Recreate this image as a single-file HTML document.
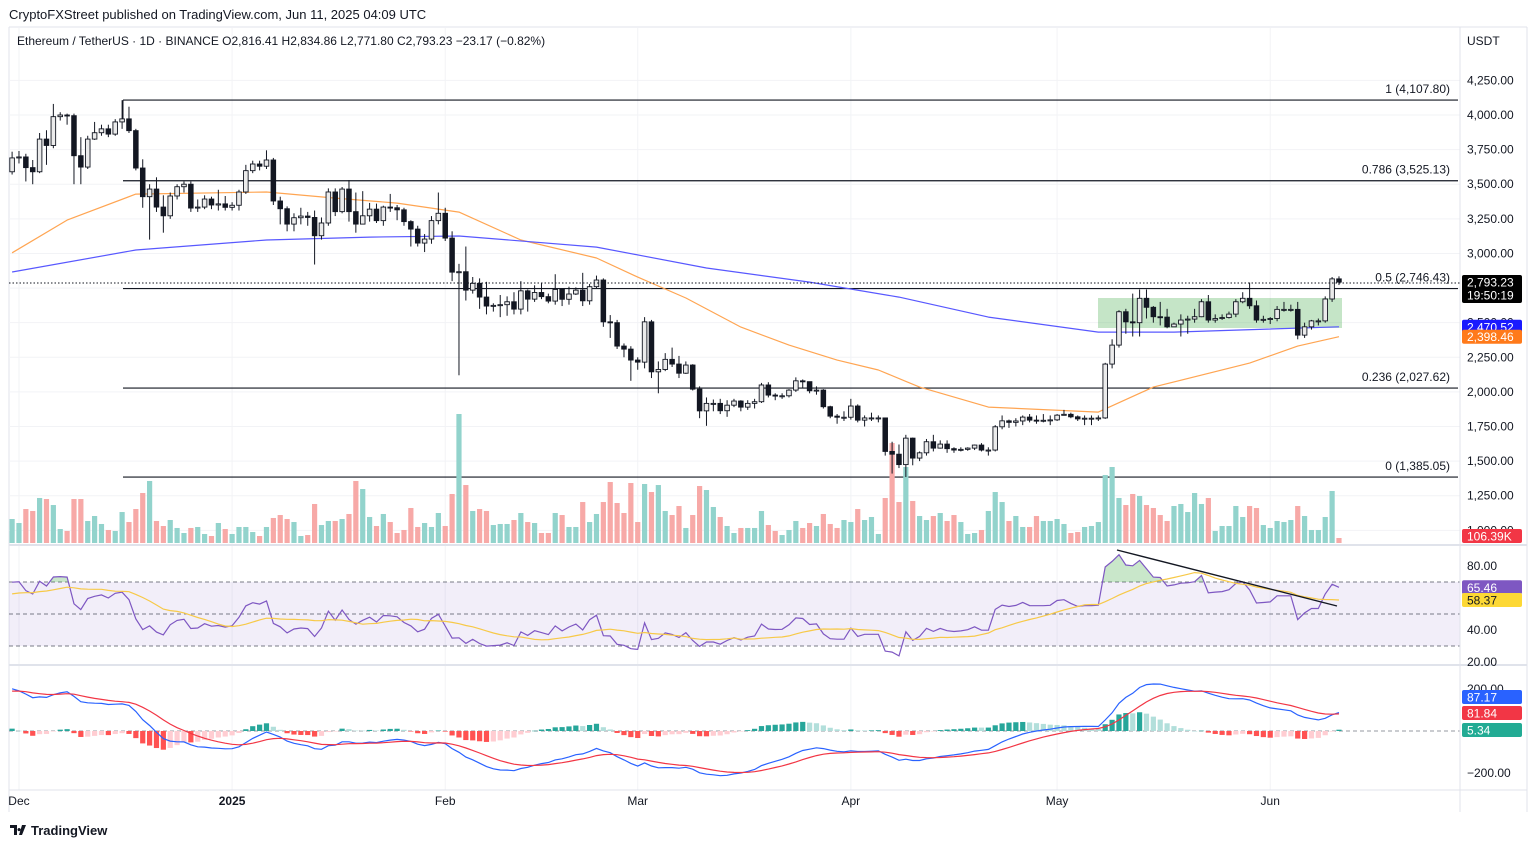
<!DOCTYPE html>
<html><head><meta charset="utf-8"><title>ETH/USDT 1D chart</title>
<style>
html,body{margin:0;padding:0;background:#fff;}
body{width:1536px;height:847px;overflow:hidden;position:relative;font-family:"Liberation Sans",Arial,sans-serif;color:#131722;}
svg text{font-family:"Liberation Sans",Arial,sans-serif;}
</style></head>
<body>
<svg id="chart" width="1536" height="847" viewBox="0 0 1536 847" xmlns="http://www.w3.org/2000/svg">
  <rect x="0" y="0" width="1536" height="847" fill="#ffffff"/>
  <text x="9" y="19" font-size="13" fill="#131722">CryptoFXStreet published on TradingView.com, Jun 11, 2025 04:09 UTC</text>
  <line x1="9" y1="27" x2="1527" y2="27" stroke="#e0e3eb"/>
  <line x1="9" y1="27" x2="9" y2="812" stroke="#e0e3eb"/>
  <line x1="1527" y1="27" x2="1527" y2="812" stroke="#e0e3eb"/>
  <g id="grid"></g>
  <g id="fib"></g>
  <rect x="1098" y="298" width="244" height="30" fill="#4caf50" fill-opacity="0.32"/>
  <g id="vol"></g>
  <g id="ma"></g>
  <g id="candles"></g>
  <line x1="9" y1="283" x2="1460" y2="283" stroke="#131722" stroke-dasharray="1.5,2"/>
  <g id="rsi"></g>
  <g id="macd"></g>
  <line x1="9" y1="545" x2="1527" y2="545" stroke="#e0e3eb" stroke-width="2"/>
  <line x1="9" y1="665" x2="1527" y2="665" stroke="#e0e3eb" stroke-width="2"/>
  <line x1="9" y1="790" x2="1527" y2="790" stroke="#e0e3eb"/>
  <line x1="1460" y1="27" x2="1460" y2="812" stroke="#e0e3eb"/>
  <g id="axis"></g>
  <text x="17" y="45" font-size="12" fill="#131722">Ethereum / TetherUS · 1D · BINANCE  O2,816.41  H2,834.86  L2,771.80  C2,793.23  −23.17 (−0.82%)</text>
  <text x="1467" y="45" font-size="12" fill="#131722">USDT</text>
  <g>
    <path d="M10 825 h7 v10 h-3 v-7 h-4z M19 828 a1.6 1.6 0 1 0 0.1 0z M22 825 h4 l-4 10 h-3z" fill="#131722"/>
    <text x="31" y="835" font-size="13" font-weight="bold" fill="#131722">TradingView</text>
  </g>
</svg>
<script>
// ---------- data ----------
const startDate = '2024-11-30';
const closes = [3690,3697,3620,3590,3826,3780,3988,4000,3995,3706,3624,3826,3872,3900,3862,3950,3972,3887,3617,3410,3465,3335,3272,3415,3482,3500,3328,3335,3393,3350,3358,3333,
3348,3444,3598,3646,3630,3675,3379,3323,3212,3258,3270,3260,3128,3220,3444,3302,3465,3302,3212,3272,3320,3237,3335,3330,3315,3230,3176,3075,3104,3237,3290,
3111,2865,2868,2735,2784,2685,2620,2625,2630,2651,2598,2730,2670,2718,2688,2656,2740,2669,2707,2735,2658,2760,2808,2506,2500,2331,2309,2230,
2215,2506,2145,2162,2235,2201,2135,2194,2020,1863,1917,1917,1864,1904,1934,1890,1917,1929,2050,1977,1970,1972,2013,2080,2074,2008,2013,1893,1825,1817,1817,
1898,1796,1812,1812,1812,1570,1550,1475,1666,1522,1560,1640,1594,1623,1590,1580,1585,1594,1616,1580,1580,1748,1791,1780,1790,1818,1796,1795,1795,1798,
1832,1838,1820,1805,1810,1810,1812,2201,2338,2579,2506,2500,2676,2611,2543,2540,2470,2490,2519,2526,2543,2651,2519,2530,2537,2562,2651,2676,2622,2519,2524,
2530,2596,2596,2596,2410,2470,2513,2513,2671,2816.41,2793.23];
const highs = [3735,3740,3720,3675,3870,3890,4080,4020,4010,4010,3840,3850,3950,3930,3930,3970,4107,4060,3900,3680,3500,3550,3420,3440,3500,3520,3520,3390,3420,3410,3460,3415,
3370,3460,3640,3670,3670,3745,3690,3410,3340,3290,3330,3300,3310,3260,3470,3470,3480,3530,3440,3450,3365,3360,3345,3430,3350,3330,3240,3200,3140,3270,3440,
3330,3160,2925,3050,2830,2820,2795,2640,2700,2690,2720,2800,2740,2770,2790,2710,2850,2730,2760,2755,2860,2780,2840,2820,2555,2520,2350,2330,
2250,2540,2520,2220,2280,2320,2260,2220,2200,2040,1960,1945,1950,1940,1950,1940,1940,1950,2065,2070,1990,1990,2020,2105,2090,2075,2040,2020,1900,1840,1860,
1950,1910,1830,1850,1830,1815,1640,1620,1690,1670,1570,1660,1690,1650,1650,1600,1600,1600,1620,1630,1600,1760,1830,1800,1810,1830,1840,1830,1840,1830,
1840,1870,1850,1830,1830,1830,1830,2210,2380,2590,2600,2710,2740,2740,2620,2650,2600,2500,2560,2550,2600,2670,2700,2560,2560,2580,2670,2720,2790,2660,2550,
2540,2620,2650,2630,2650,2500,2520,2530,2690,2830,2834.86];
const lows = [3570,3650,3520,3500,3580,3640,3760,3960,3930,3500,3500,3610,3820,3850,3840,3850,3900,3870,3600,3330,3100,3300,3150,3250,3390,3440,3300,3300,3320,3320,3310,3310,
3310,3310,3430,3580,3600,3610,3350,3210,3160,3160,3210,3200,2920,3100,3200,3270,3290,3230,3150,3210,3230,3220,3200,3300,3240,3200,3050,3050,3010,3070,3210,
3090,2800,2120,2660,2710,2600,2560,2580,2540,2550,2560,2560,2580,2650,2670,2640,2630,2620,2630,2700,2620,2630,2750,2470,2390,2310,2250,2080,
2160,2170,2100,1990,2150,2180,2100,2130,2010,1810,1755,1860,1840,1820,1890,1860,1870,1880,1920,1960,1940,1950,1960,2000,2030,1990,1980,1880,1810,1770,1790,
1800,1780,1750,1790,1780,1540,1410,1450,1385,1470,1500,1540,1570,1590,1560,1560,1570,1575,1580,1570,1540,1570,1730,1740,1750,1760,1780,1770,1780,1760,
1790,1830,1810,1790,1760,1760,1790,1805,2170,2320,2420,2400,2400,2530,2500,2480,2460,2470,2400,2420,2500,2540,2500,2500,2520,2530,2540,2640,2600,2500,2500,
2490,2510,2580,2580,2380,2390,2450,2480,2500,2650,2771.80];
const firstOpen = 3590;
const volume = [511,426,724,682,959,937,809,298,256,937,937,469,575,405,277,256,660,447,724,1065,1321,469,362,490,320,213,320,341,192,149,
426,298,192,341,341,234,149,341,533,596,511,447,149,170,831,383,469,469,511,618,1321,1150,554,362,618,447,213,277,746,341,
426,341,639,362,1044,2748,1235,682,724,682,383,405,405,490,639,447,426,213,213,639,596,341,341,873,447,618,873,1299,852,639,
1278,447,1257,1086,1235,682,596,788,320,596,1214,1129,767,554,362,213,320,320,320,682,383,256,170,277,469,320,426,362,618,405,
320,490,447,724,490,554,192,959,2130,873,1619,895,575,490,575,639,469,596,447,192,213,277,682,1086,873,469,575,341,341,575,
469,469,511,405,213,234,341,362,447,1448,1619,959,809,1044,1001,809,746,596,469,788,831,660,1065,831,959,256,362,362,788,554,
788,746,383,320,469,447,490,788,575,277,277,554,1108,106.39];
// moving averages (day index, value)
const ma50Days = [0,8,18,37,47,56,65,74,85,91,98,106,113,120,126,132,142,158,166,180,187,193];
const ma50Vals = [3005,3241,3429,3444,3400,3364,3299,3097,2967,2829,2678,2468,2338,2230,2158,2035,1890,1854,2035,2208,2331,2398.46];
const ma200Days = [0,18,37,52,65,85,101,116,129,142,158,169,193];
const ma200Vals = [2866,3025,3097,3118,3126,3046,2895,2793,2685,2540,2432,2432,2470.52];
const rsiSeedGain = 48, rsiSeedLoss = 24, rsiMaSeed = 62;
const macdSeedFast = 3620, macdSeedSlow = 3409, macdSeedSignal = 187;
// axis ticks
const priceTicks = [4250,4000,3750,3500,3250,3000,2750,2500,2250,2000,1750,1500,1250,1000];
const priceTickLabels = ['4,250.00','4,000.00','3,750.00','3,500.00','3,250.00','3,000.00','2,750.00','2,500.00','2,250.00','2,000.00','1,750.00','1,500.00','1,250.00','1,000.00'];
const monthDays = [1,32,63,91,122,152,183];
const monthLabels = ['Dec','2025','Feb','Mar','Apr','May','Jun'];
const fibLevels = [4107.80,3525.13,2746.43,2027.62,1385.05];
const fibLabels = ['1 (4,107.80)','0.786 (3,525.13)','0.5 (2,746.43)','0.236 (2,027.62)','0 (1,385.05)'];
const rsiTicks = [80,40,20];
const rsiTickLabels = ['80.00','40.00','20.00'];
const macdTicks = [200,-200];
const macdTickLabels = ['200.00','−200.00'];

// ---------- axis functions ----------
const xOf = k => 12.1 + k*6.875;
const yP = p => 115 + (4000-p)*0.13845;
const VMAX = Math.max(...volume);
const yV = v => 543 - v/VMAX*129;
const yR = r => 566 + (80-r)*1.6;
const yM = m => 731 - m*0.21;

const NS='http://www.w3.org/2000/svg';
function mk(parent, tag, attrs){
  const el=document.createElementNS(NS,tag);
  for(const k in attrs) el.setAttribute(k, attrs[k]);
  parent.appendChild(el); return el;
}
const G = id => document.getElementById(id);

// ---------- grid ----------
priceTicks.forEach((p,i)=>{
  const el=mk(G('grid'),'line',{x1:9,x2:1460,y1:yP(p),y2:yP(p),stroke:'#f2f3f6'});
  
  
});
monthDays.forEach(d=>{
  const el=mk(G('grid'),'line',{x1:xOf(d),x2:xOf(d),y1:28,y2:790,stroke:'#f2f3f6'});
  
  
});

// ---------- fib ----------
fibLevels.forEach((lv,i)=>{
  const y=yP(lv);
  const ln=mk(G('fib'),'line',{x1:123,x2:1458,y1:y,y2:y,stroke:'#131722','stroke-width':1.2});
  
  
  const t=mk(G('fib'),'text',{x:1450,y:y-7,'font-size':12,'text-anchor':'end',fill:'#131722'});
  t.textContent=fibLabels[i];
  
  
});
const fv=mk(G('fib'),'line',{x1:123,x2:123,y1:yP(fibLevels[0]),y2:yP(fibLevels[0])+21,stroke:'#131722'});



// ---------- candles & volume ----------
const opens = closes.map((c,k)=> k===0 ? firstOpen : closes[k-1]);
closes.forEach((c,k)=>{
  const o=opens[k], x=xOf(k), up=c>=o;
  const vb=mk(G('vol'),'rect',{x:x-2.6,width:5.2,y:yV(volume[k]),height:543-yV(volume[k]),fill:up?'#92d3cc':'#f7a9a7'});
  
  
  const w=mk(G('candles'),'line',{x1:x,x2:x,y1:yP(highs[k]),y2:yP(lows[k]),stroke:'#131722','stroke-width':1});
  
  
  const top=yP(Math.max(o,c)), bot=yP(Math.min(o,c));
  const b=mk(G('candles'),'rect',{x:x-2.3,width:4.6,y:top,height:Math.max(1,bot-top),fill:up?'#ebebeb':'#131722',stroke:'#131722','stroke-width':0.9});
  
  
});

// ---------- moving averages ----------
function poly(days, vals, yf){ return days.map((d,i)=>xOf(d).toFixed(1)+','+yf(vals[i]).toFixed(1)).join(' '); }
const m50=mk(G('ma'),'polyline',{points:poly(ma50Days,ma50Vals,yP),fill:'none',stroke:'#ffa552','stroke-width':1.2,'stroke-linejoin':'round'});


const m200=mk(G('ma'),'polyline',{points:poly(ma200Days,ma200Vals,yP),fill:'none',stroke:'#5858ff','stroke-width':1.2,'stroke-linejoin':'round'});



// ---------- RSI ----------
const rsi=[]; {
  let ag=rsiSeedGain, al=rsiSeedLoss; const n=14;
  for(let k=0;k<closes.length;k++){
    const ch = k===0 ? closes[0]-firstOpen : closes[k]-closes[k-1];
    const g=Math.max(ch,0), l=Math.max(-ch,0);
    ag = (ag*(n-1)+g)/n; al=(al*(n-1)+l)/n;
    rsi.push(al===0?100:100-100/(1+ag/al));
  }
}
const rsiMa = rsi.map((v,k)=>{
  const s=rsi.slice(Math.max(0,k-13),k+1);
  const pad=14-s.length;
  return (s.reduce((a,b)=>a+b,0)+pad*rsiMaSeed)/14;
});
const rb=mk(G('rsi'),'rect',{x:9,y:yR(70),width:1451,height:yR(30)-yR(70),fill:'#7e57c2','fill-opacity':0.1});


[70,50,30].forEach(v=>{
  const l=mk(G('rsi'),'line',{x1:9,x2:1460,y1:yR(v),y2:yR(v),stroke:'#787b86','stroke-dasharray':'4,3','stroke-width':1});
  
  
});
const clip=mk(G('rsi'),'clipPath',{id:'obclip'});
mk(clip,'rect',{x:0,y:540,width:1460,height:yR(70)-540});
const rpts = rsi.map((v,k)=>xOf(k).toFixed(1)+','+yR(v).toFixed(1));
const ob=mk(G('rsi'),'polygon',{points:xOf(0)+','+yR(70)+' '+rpts.join(' ')+' '+xOf(rsi.length-1)+','+yR(70),fill:'#4caf50','fill-opacity':0.3,'clip-path':'url(#obclip)'});


const rl=mk(G('rsi'),'polyline',{points:rpts.join(' '),fill:'none',stroke:'#7e57c2','stroke-width':1.2});


const rml=mk(G('rsi'),'polyline',{points:rsiMa.map((v,k)=>xOf(k).toFixed(1)+','+yR(v).toFixed(1)).join(' '),fill:'none',stroke:'#f7c948','stroke-width':1.2});


const tl=mk(G('rsi'),'line',{x1:1117,y1:550,x2:1337,y2:606,stroke:'#131722','stroke-width':1.4});



// ---------- MACD ----------
const macd=[], sig=[], hist=[]; {
  let e12=macdSeedFast, e26=macdSeedSlow, s=macdSeedSignal;
  const a12=2/13, a26=2/27, a9=2/10;
  closes.forEach((c,k)=>{
    e12=e12+a12*(c-e12); e26=e26+a26*(c-e26);
    const m=e12-e26; s=s+a9*(m-s);
    macd.push(m); sig.push(s); hist.push(m-s);
  });
}
const zl=mk(G('macd'),'line',{x1:9,x2:1460,y1:yM(0),y2:yM(0),stroke:'#9598a1','stroke-dasharray':'4,3'});


hist.forEach((h,k)=>{
  const prev = k>0?hist[k-1]:0;
  const col = h>=0 ? (h>=prev?'#26a69a':'#b2dfdb') : (h<prev?'#ff5252':'#ffcdd2');
  const y0=yM(0), y1=yM(h);
  const r=mk(G('macd'),'rect',{x:xOf(k)-2.6,width:5.2,y:Math.min(y0,y1),height:Math.max(0.5,Math.abs(y1-y0)),fill:col});
  
  
});
const ml=mk(G('macd'),'polyline',{points:macd.map((v,k)=>xOf(k).toFixed(1)+','+yM(v).toFixed(1)).join(' '),fill:'none',stroke:'#2962ff','stroke-width':1.2});


const sl=mk(G('macd'),'polyline',{points:sig.map((v,k)=>xOf(k).toFixed(1)+','+yM(v).toFixed(1)).join(' '),fill:'none',stroke:'#f23645','stroke-width':1.2});



// ---------- axes ----------
const AX=G('axis');
priceTicks.forEach((p,i)=>{
  const t=mk(AX,'text',{x:1467,y:yP(p)+4,'font-size':12,fill:'#131722'});
  t.textContent=priceTickLabels[i];
  
  
});
rsiTicks.forEach((v,i)=>{
  const t=mk(AX,'text',{x:1467,y:yR(v)+4,'font-size':12,fill:'#131722'});
  t.textContent=rsiTickLabels[i];
  
  
});
macdTicks.forEach((v,i)=>{
  const t=mk(AX,'text',{x:1467,y:yM(v)+4,'font-size':12,fill:'#131722'});
  t.textContent=macdTickLabels[i];
  
  
});
monthDays.forEach((d,i)=>{
  const t=mk(AX,'text',{x:xOf(d),y:805,'font-size':12,'text-anchor':'middle',fill:'#131722','font-weight':monthLabels[i]==='2025'?'bold':'normal'});
  t.textContent=monthLabels[i];
  
  
});
function tag(y,h,bg,fg,lines,name){
  const r=mk(AX,'rect',{x:1462,y:y,width:60,height:h,fill:bg,rx:2});
  
  
  lines.forEach((s,i)=>{
    const t=mk(AX,'text',{x:1467,y:y+11.5+i*13,'font-size':12,fill:fg});
    t.textContent=s;
    
    
  });
}
tag(275,28,'#000000','#ffffff',['2,793.23','19:50:19'],'last-price-tag');
tag(yP(ma200Vals[ma200Vals.length-1])-7,14,'#1a1aff','#ffffff',['2,470.52'],'ma-200-tag');
tag(yP(ma50Vals[ma50Vals.length-1])-7,14,'#ff7a1a','#ffffff',['2,398.46'],'ma-50-tag');
tag(529,14,'#f23645','#ffffff',['106.39K'],'volume-tag');
tag(yR(rsi[rsi.length-1])-7,14,'#7e57c2','#ffffff',['65.46'],'rsi-value-tag');
tag(yR(rsiMa[rsiMa.length-1])-7,14,'#fdd835','#131722',['58.37'],'rsi-ma-tag');
tag(690,14,'#2962ff','#ffffff',['87.17'],'macd-value-tag');
tag(706,14,'#f23645','#ffffff',['81.84'],'macd-signal-tag');
tag(723,14,'#22ab94','#ffffff',['5.34'],'macd-hist-tag');
</script>
</body></html>
